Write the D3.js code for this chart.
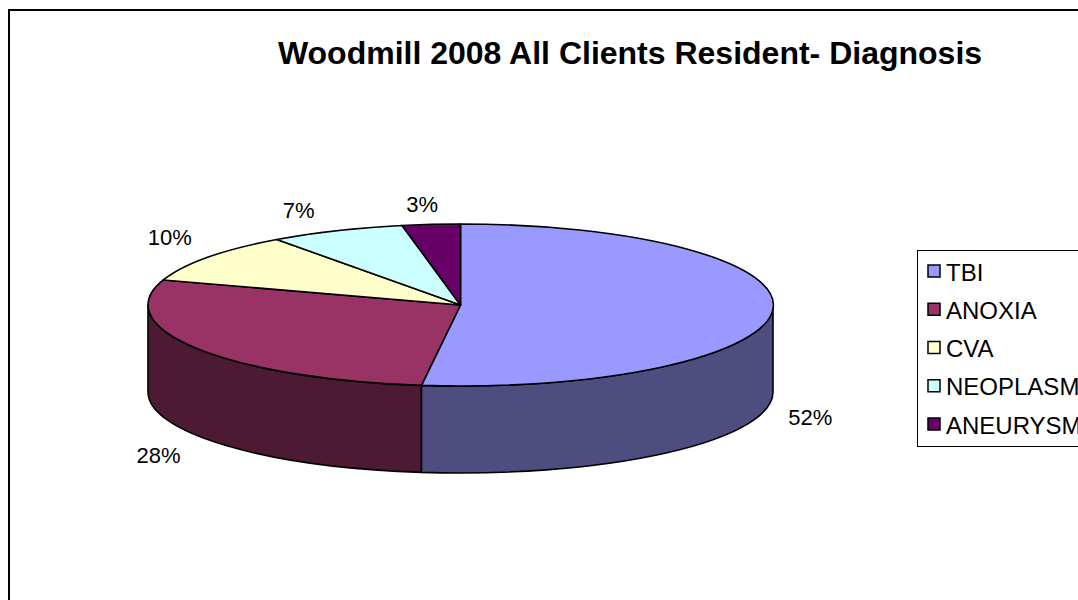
<!DOCTYPE html>
<html>
<head>
<meta charset="utf-8">
<script src="https://cdn.jsdelivr.net/npm/d3@7"></script>
<style>
  html, body { margin: 0; padding: 0; background: #fff; }
  svg { display: block; font-family: "Liberation Sans", Arial, sans-serif; }
</style>
</head>
<body>
<svg id="chart" width="1078" height="600"></svg>
<script>
// Diagnosis breakdown (percent of all resident clients)
const categories = ["TBI", "ANOXIA", "CVA", "NEOPLASM", "ANEURYSM"];
const shares = [52, 28, 10, 7, 3];
const chartTitle = "Woodmill 2008 All Clients Resident- Diagnosis";

// Excel-style palette for the slice tops
const palette = ["#9999FF", "#993366", "#FFFFCC", "#CCFFFF", "#660066"];

const W = 1078, H = 600;
const svg = d3.select("#chart");

// chart frame
svg.append("rect")
  .attr("x", 9).attr("y", 10)
  .attr("width", W + 20).attr("height", H + 20)
  .attr("fill", "#fff").attr("stroke", "#000").attr("stroke-width", 2);

// title
svg.append("text")
  .attr("x", 630).attr("y", 64)
  .attr("text-anchor", "middle")
  .attr("font-size", 32).attr("font-weight", "bold")
  .text(chartTitle);

// 3D pie geometry
const cx = 460.5, cy = 305, rx = 312.5, ry = 81, depth = 87;
const data = categories.map((c, i) => ({ name: c, value: shares[i] }));
const total = d3.sum(shares);
const arcs = d3.pie().sort(null).value(d => d.value)(data);

const color = d3.scaleOrdinal().domain(categories).range(palette);
const sideColor = name => {
  const c = d3.rgb(color(name));
  return d3.rgb(c.r * 0.5, c.g * 0.5, c.b * 0.5).formatHex();
};

const pt = (a, dy) => [cx + rx * Math.sin(a), cy - ry * Math.cos(a) + dy];

// side walls (only the front half of the rim is visible)
const walls = svg.append("g");
arcs.forEach(d => {
  const s0 = Math.max(d.startAngle, Math.PI / 2);
  const s1 = Math.min(d.endAngle, 3 * Math.PI / 2);
  if (s1 <= s0) return;
  const p0 = pt(s0, 0), p1 = pt(s1, 0), q1 = pt(s1, depth), q0 = pt(s0, depth);
  const path = `M${p0}A${rx},${ry} 0 0 1 ${p1}L${q1}A${rx},${ry} 0 0 0 ${q0}Z`;
  walls.append("path")
    .attr("d", path)
    .attr("fill", sideColor(d.data.name))
    .attr("stroke", "#000").attr("stroke-width", 1.6)
    .attr("stroke-linejoin", "round");
});

// slice tops: unit-radius arcs squashed into the ellipse
const arcGen = d3.arc().innerRadius(0).outerRadius(1);
svg.append("g")
  .attr("transform", `translate(${cx},${cy}) scale(${rx},${ry})`)
  .selectAll("path")
  .data(arcs)
  .join("path")
  .attr("d", arcGen)
  .attr("fill", d => color(d.data.name))
  .attr("stroke", "#000").attr("stroke-width", 1.6)
  .attr("stroke-linejoin", "round")
  .attr("vector-effect", "non-scaling-stroke");

// percentage labels: anchored on the rim at the slice mid-angle
// (bottom rim for front slices), pushed outward
const fmt = d3.format(".0%");
svg.append("g")
  .selectAll("text")
  .data(arcs)
  .join("text")
  .each(function (d) {
    const m = (d.startAngle + d.endAngle) / 2;
    const s = Math.sin(m);
    const front = Math.cos(m) < 0;
    const [ax, ay] = pt(m, front ? depth : 0);
    const dx = 38 * Math.sign(s) * Math.min(1, 2.5 * Math.abs(s));
    const dy = front ? 20 : -20;
    d3.select(this).attr("x", ax + dx).attr("y", ay + dy);
  })
  .attr("text-anchor", "middle")
  .attr("dominant-baseline", "central")
  .attr("font-size", 22)
  .text(d => fmt(d.data.value / total));

// legend
const lg = svg.append("g").attr("transform", "translate(917,250)");
lg.append("rect")
  .attr("x", 0.5).attr("y", 0.5)
  .attr("width", 200).attr("height", 196)
  .attr("fill", "#fff").attr("stroke", "#000").attr("stroke-width", 1);
const rowY = d3.scalePoint().domain(categories).range([21, 174]);
const rows = lg.selectAll("g.row").data(categories).join("g")
  .attr("class", "row")
  .attr("transform", d => `translate(0,${rowY(d)})`);
rows.append("rect")
  .attr("x", 11).attr("y", -6).attr("width", 12).attr("height", 12)
  .attr("fill", d => color(d)).attr("stroke", "#000").attr("stroke-width", 1.5);
rows.append("text")
  .attr("x", 29).attr("y", 1)
  .attr("dominant-baseline", "central")
  .attr("font-size", 24)
  .text(d => d);
</script>
</body>
</html>
